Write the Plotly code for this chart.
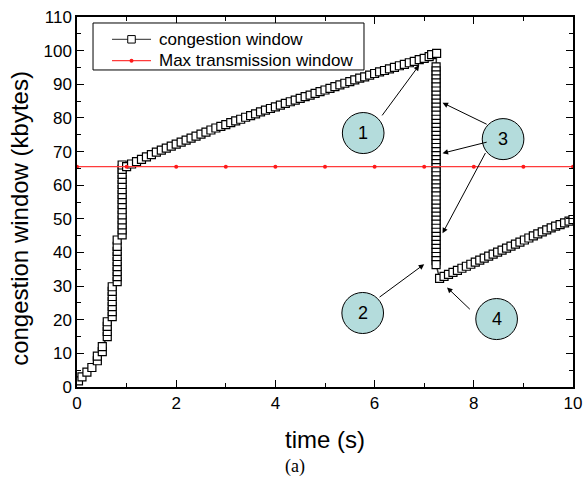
import plotly.graph_objects as go

# ---------------- data ----------------
# slow start (columns of stacked points)
slow_t = [0.03, 0.10, 0.20, 0.30,
          0.41, 0.41,
          0.51, 0.51,
          0.61, 0.61, 0.61, 0.61,
          0.71, 0.71, 0.71, 0.71, 0.71, 0.71, 0.71,
          0.81, 0.81, 0.81, 0.81, 0.81, 0.81, 0.81, 0.81, 0.81,
          0.91, 0.91, 0.91, 0.91, 0.91, 0.91, 0.91, 0.91, 0.91, 0.91, 0.91, 0.91, 0.91, 0.91, 0.91]
slow_v = [1.8, 3.0, 4.4, 5.8,
          7.8, 9.2,
          10.5, 12.0,
          15.0, 16.5, 18.0, 19.4,
          20.9, 22.4, 23.9, 25.4, 26.9, 28.4, 29.8,
          31.3, 32.8, 34.3, 35.8, 37.3, 38.8, 40.3, 41.8, 43.7,
          45.2, 46.7, 48.2, 49.7, 51.2, 52.7, 54.2, 55.7, 57.2, 58.7, 60.2, 61.7, 63.2, 64.7, 66.0]

# congestion avoidance
ca_t = [1.0, 1.1, 1.2, 1.3, 1.4, 1.5, 1.6, 1.7, 1.8, 1.9,
        2.0, 2.1, 2.2, 2.3, 2.4, 2.5, 2.6, 2.7, 2.8, 2.9,
        3.0, 3.1, 3.2, 3.3, 3.4, 3.5, 3.6, 3.7, 3.8, 3.9,
        4.0, 4.1, 4.2, 4.3, 4.4, 4.5, 4.6, 4.7, 4.8, 4.9,
        5.0, 5.1, 5.2, 5.3, 5.4, 5.5, 5.6, 5.7, 5.8, 5.9,
        6.0, 6.1, 6.2, 6.3, 6.4, 6.5, 6.6, 6.7, 6.8, 6.9,
        7.0, 7.1, 7.15, 7.25]
ca_v = [65.5, 66.3, 67.0, 67.7, 68.4, 69.1, 69.8, 70.4, 71.0, 71.6,
        72.2, 72.8, 73.4, 74.0, 74.6, 75.2, 75.8, 76.4, 77.0, 77.5,
        78.0, 78.6, 79.1, 79.6, 80.2, 80.7, 81.2, 81.8, 82.3, 82.8,
        83.3, 83.8, 84.3, 84.8, 85.3, 85.8, 86.3, 86.8, 87.3, 87.8,
        88.3, 88.8, 89.3, 89.8, 90.3, 90.8, 91.3, 91.8, 92.2, 92.7,
        93.2, 93.7, 94.1, 94.6, 95.0, 95.5, 95.9, 96.4, 96.8, 97.3,
        97.7, 98.2, 98.8, 99.2]

# window deflation (vertical drop)
drop_t = [7.24] * 50
drop_v = [95.2, 94.0, 92.8, 91.6, 90.4, 89.2, 88.0, 86.8, 85.6, 84.4,
          83.2, 82.0, 80.8, 79.6, 78.4, 77.2, 76.0, 74.8, 73.6, 72.4,
          71.2, 70.0, 68.8, 67.6, 66.4, 65.2, 64.0, 62.8, 61.6, 60.4,
          59.2, 58.0, 56.8, 55.6, 54.4, 53.2, 52.0, 50.8, 49.6, 48.4,
          47.2, 46.0, 44.8, 43.6, 42.4, 41.2, 40.0, 38.8, 37.6, 36.4]

# recovery
rec_t = [7.31, 7.40, 7.49, 7.58, 7.67, 7.76, 7.85, 7.94, 8.03, 8.12,
         8.21, 8.30, 8.39, 8.48, 8.57, 8.66, 8.75, 8.84, 8.93, 9.02,
         9.11, 9.20, 9.29, 9.38, 9.47, 9.56, 9.65, 9.74, 9.83, 9.92, 10.0]
rec_v = [32.3, 32.9, 33.5, 34.1, 34.7, 35.3, 35.9, 36.5, 37.1, 37.7,
         38.3, 38.9, 39.5, 40.1, 40.7, 41.3, 41.9, 42.5, 43.1, 43.7,
         44.3, 44.9, 45.5, 46.1, 46.7, 47.3, 47.8, 48.3, 48.8, 49.3, 49.8]

max_t = [0, 1, 2, 3, 4, 5, 6, 7, 8, 9, 10]
max_v = [65.5] * 11

series_names = ["congestion window", "Max transmission window"]

labels = ["1", "2", "3", "4"]
label_x = [5.77, 5.76, 8.59, 8.46]
label_y = [75.5, 22.0, 73.7, 20.2]

# arrows: (tail_x, tail_y, head_x, head_y)
arrow_tail_x = [6.13, 6.07, 8.29, 8.29, 8.25, 7.95]
arrow_tail_y = [80.3, 26.4, 77.9, 72.9, 70.0, 22.7]
arrow_head_x = [6.90, 7.00, 7.37, 7.37, 7.37, 7.46]
arrow_head_y = [95.7, 36.5, 84.5, 69.5, 45.7, 29.6]

cw_t = slow_t + ca_t + drop_t + rec_t
cw_v = slow_v + ca_v + drop_v + rec_v

FONT = "Liberation Sans, Arial, sans-serif"
CW_LINE = "#333333"
MAX_COLOR = "#ff3b3b"

fig = go.Figure()
fig.add_trace(go.Scatter(
    x=cw_t, y=cw_v, mode="lines+markers", name=series_names[0],
    line=dict(color=CW_LINE, width=1.5),
    marker=dict(symbol="square", size=8, color="white",
                line=dict(color="black", width=1.2)),
    showlegend=False,
))
fig.add_trace(go.Scatter(
    x=max_t, y=max_v, mode="lines+markers", name=series_names[1],
    line=dict(color=MAX_COLOR, width=1.3),
    marker=dict(symbol="circle", size=4, color="#ff1a1a"),
    showlegend=False,
))

shapes = []
annotations = []
rx, ry = 0.42, 6.1
for lab, cx, cy in zip(labels, label_x, label_y):
    shapes.append(dict(type="circle", xref="x", yref="y",
                       x0=cx - rx, x1=cx + rx, y0=cy - ry, y1=cy + ry,
                       fillcolor="#b4dcdc", line=dict(color="black", width=1),
                       layer="above"))
    annotations.append(dict(x=cx, y=cy, xref="x", yref="y", text=lab,
                            showarrow=False, font=dict(size=18, color="black", family=FONT)))

for tx, ty, hx, hy in zip(arrow_tail_x, arrow_tail_y, arrow_head_x, arrow_head_y):
    annotations.append(dict(x=hx, y=hy, ax=tx, ay=ty, xref="x", yref="y",
                            axref="x", ayref="y", text="", showarrow=True,
                            arrowhead=2, arrowsize=1.1, arrowwidth=1,
                            arrowcolor="black"))

# ---- manual legend (paper coordinates) ----
L_X0, L_X1, L_Y0, L_Y1 = 0.0323, 0.5786, 0.8568, 0.9838
ROW_Y = [0.9397, 0.8819]
SYM_X0, SYM_X1, SYM_XC, TXT_X = 0.0706, 0.1492, 0.1099, 0.1613
shapes.append(dict(type="rect", xref="paper", yref="paper",
                   x0=L_X0, x1=L_X1, y0=L_Y0, y1=L_Y1,
                   fillcolor="white", line=dict(color="black", width=1), layer="above"))
shapes.append(dict(type="line", xref="paper", yref="paper",
                   x0=SYM_X0, x1=SYM_X1, y0=ROW_Y[0], y1=ROW_Y[0],
                   line=dict(color="#555555", width=1.2), layer="above"))
shapes.append(dict(type="rect", xref="paper", yref="paper",
                   x0=SYM_XC - 0.0076, x1=SYM_XC + 0.0076,
                   y0=ROW_Y[0] - 0.0101, y1=ROW_Y[0] + 0.0101,
                   fillcolor="white", line=dict(color="black", width=1), layer="above"))
shapes.append(dict(type="line", xref="paper", yref="paper",
                   x0=SYM_X0, x1=SYM_X1, y0=ROW_Y[1], y1=ROW_Y[1],
                   line=dict(color=MAX_COLOR, width=1.3), layer="above"))
shapes.append(dict(type="circle", xref="paper", yref="paper",
                   x0=SYM_XC - 0.004, x1=SYM_XC + 0.004,
                   y0=ROW_Y[1] - 0.0054, y1=ROW_Y[1] + 0.0054,
                   fillcolor="#ff1a1a", line=dict(color="#ff1a1a", width=0), layer="above"))
for name, ry_ in zip(series_names, ROW_Y):
    annotations.append(dict(x=TXT_X, y=ry_, xref="paper", yref="paper", text=name,
                            showarrow=False, xanchor="left", yanchor="middle",
                            font=dict(size=17, color="black", family=FONT)))

annotations.append(dict(x=-0.115, y=0.457, xref="paper", yref="paper",
                        text="congestion window (kbytes)", textangle=-90,
                        showarrow=False, xanchor="center", yanchor="middle",
                        font=dict(size=24, color="black", family=FONT)))
annotations.append(dict(x=0.5, y=-0.143, xref="paper", yref="paper",
                        text="time (s)", showarrow=False,
                        xanchor="center", yanchor="middle",
                        font=dict(size=24, color="black", family=FONT)))
annotations.append(dict(x=0.44, y=-0.215, xref="paper", yref="paper",
                        text="(a)", showarrow=False,
                        xanchor="center", yanchor="middle",
                        font=dict(size=18, color="black",
                                  family="Liberation Serif, Times New Roman, serif")))

axis_common = dict(showline=True, linecolor="black", linewidth=1.5, mirror="allticks",
                   ticks="inside", ticklen=7, tickwidth=1.3, tickcolor="black",
                   showgrid=False, zeroline=False, automargin=False,
                   tickfont=dict(size=17, color="black", family=FONT))

fig.update_layout(
    width=583, height=477,
    margin=dict(l=77, r=10, t=17, b=90, autoexpand=False),
    paper_bgcolor="white", plot_bgcolor="white",
    font=dict(family=FONT, color="black"),
    xaxis=dict(range=[0, 10], tick0=0, dtick=2,
               minor=dict(dtick=1, ticks="inside", ticklen=4, tickcolor="black", tickwidth=1.3),
               **axis_common),
    yaxis=dict(range=[0, 110], tick0=0, dtick=10,
               minor=dict(dtick=5, ticks="inside", ticklen=4, tickcolor="black", tickwidth=1.3),
               **axis_common),
    shapes=shapes,
    annotations=annotations,
    showlegend=False,
)

fig.write_html("out.html")
